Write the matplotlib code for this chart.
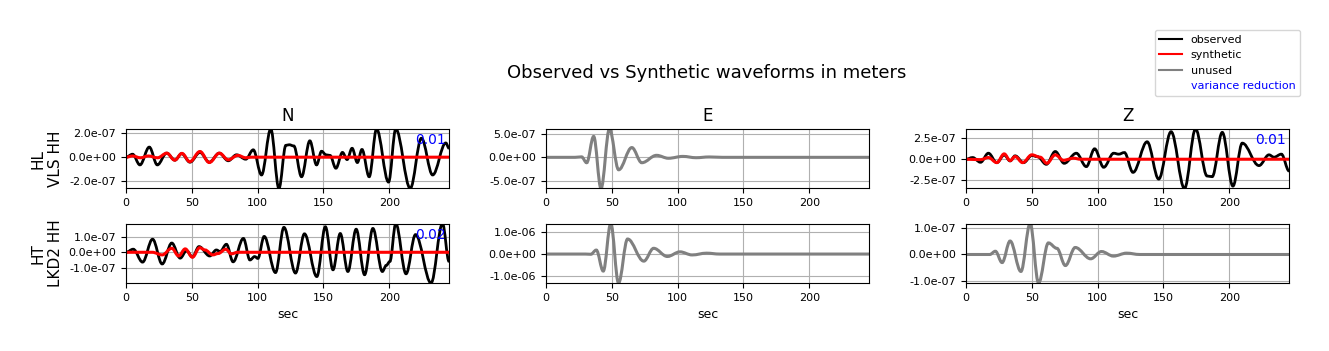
import numpy as np
import matplotlib
matplotlib.use("Agg")
import matplotlib.pyplot as plt
from matplotlib.path import Path
from matplotlib.patches import PathPatch
from matplotlib.lines import Line2D
from matplotlib.ticker import FormatStrFormatter

# amplitudes below are in units of 1e-7 m, times in sec
UNIT = 1e-7

COMPONENTS = ["N", "E", "Z"]
STATIONS = ["HL\nVLS HH", "HT\nLKD2 HH"]

# --- HL / VLS HH ---
n_hl_obs_t = [0, 5.0, 10.6, 17.7, 23.8, 30.9, 37.2, 42.3, 48.6, 56.2, 63.3, 70.9, 77.7, 84.0, 91.0,
              96.7, 103.0, 110.0, 116.2, 121.5, 124.0, 127.5, 133.4, 139.7, 144.8, 148.6, 152.0,
              155.0, 159.5, 164.5, 168.0, 171.8, 175.8, 179.3, 184.8, 190.4, 199.5, 205.0, 216.0,
              224.5, 233.0, 243.0, 245.5]
n_hl_obs_v = [0, 0.25, -0.65, 0.85, -0.65, 0.34, -0.25, 0.30, -0.42, 0.40, -0.42, 0.34, -0.30, 0.20,
              -0.17, 0.62, -1.50, 2.38, -2.64, 1.00, 1.05, 0.95, -1.65, 1.38, -0.65, 0.50, 0.20,
              0.15, -0.93, 0.40, -0.20, 0.75, -0.45, 0.65, -1.65, 2.38, -2.10, 2.38, -2.63,
              1.60, -1.50, 1.20, 0.75]
n_hl_syn_t = [0, 5, 11, 17, 24, 31, 37, 42.5, 48.5, 56.2, 63.3, 71, 77.7, 85, 91, 95, 245.5]
n_hl_syn_v = [0, 0.1, -0.05, 0.1, -0.05, 0.34, -0.25, 0.32, -0.38, 0.48, -0.45, 0.34, -0.22, 0.15,
              -0.05, 0, 0]

e_hl_t = [0, 22, 27, 30.9, 36.2, 41.8, 48.2, 55.2, 65.2, 72.8, 84, 93, 104, 114, 124, 134, 245.5]
e_hl_v = [0, 0, 0.1, -1.16, 4.5, -6.7, 6.1, -2.68, 2.1, -1.16, 0.43, -0.2, 0.2, -0.08, 0.08, 0, 0]

z_hl_obs_t = [0, 5, 11, 17, 23.4, 29, 33.5, 37.3, 43.7, 50, 54.3, 61, 67.8, 74.6, 83.8, 91.4, 97.7,
              104.6, 112.2, 116, 120.3, 126.9, 137.6, 146.4, 155.8, 166, 174.4, 183.2, 187, 194.7,
              202.8, 209.9, 222.6, 230.2, 234, 239.6, 245.5]
z_hl_obs_v = [0, 0.2, -0.36, 0.71, -0.4, 0.5, -0.2, 0.4, -0.4, 0.44, 0.3, -0.6, 0.91, -0.48, 0.71,
              -0.87, 1.23, -0.95, 0.71, 0.6, 0.79, -1.55, 2.06, -2.34, 3.25, -3.45, 3.57, -1.98,
              -2.06, 3.17, -3.17, 1.9, -0.75, 0.52, 0.24, 0.6, -1.39]
z_hl_syn_t = [0, 11, 17, 23.4, 29, 33.5, 37.3, 43, 50, 56.3, 61.4, 67.8, 74, 81.7, 87, 245.5]
z_hl_syn_v = [0, -0.05, 0.2, -0.4, 0.63, -0.16, 0.32, -0.4, 0.52, 0.24, -0.48, 0.52, -0.12, 0.12, 0, 0]

# --- HT / LKD2 HH ---
n_ht_obs_t = [0, 5.5, 12.6, 20.2, 27.5, 34.8, 41.2, 46, 50.5, 55.5, 63.6, 68.7, 71.5, 76.3, 81.4,
              89.2, 94.2, 97.8, 100.2, 105.0, 113.6, 120.0, 128.8, 135.6, 145.0, 151.5, 157.3,
              162.8, 168.6, 174.9, 181.3, 187.6, 194.8, 197.8, 200.5, 205.0, 212.8, 220.0, 231.8,
              240.5, 245.5]
n_ht_obs_v = [0, 0.2, -0.64, 0.85, -0.76, 0.6, -0.38, 0.1, -0.3, 0.37, -0.24, 0.15, 0.05, 0.52,
              -0.62, 0.9, -0.5, -0.28, -0.4, 1.03, -1.32, 1.62, -1.35, 1.2, -1.58, 1.66, -1.14,
              1.22, -1.25, 1.5, -1.46, 1.55, -1.25, -0.85, -0.6, 1.87, -1.4, 1.15, -2.0,
              1.87, -0.6]
n_ht_syn_t = [0, 20, 27.5, 34.8, 40, 45, 50.5, 56, 60, 66, 70, 75.8, 80, 85, 245.5]
n_ht_syn_v = [0, 0, -0.17, 0.26, -0.24, 0.22, -0.32, 0.3, 0.15, -0.17, -0.08, 0.2, -0.1, 0, 0]

e_ht_t = [0, 30, 34, 38.2, 43.5, 49.2, 55.1, 62.0, 74.3, 81.8, 92.2, 101.8, 111, 122, 132, 245.5]
e_ht_v = [0, 0, -0.1, 1.8, -7.7, 13.8, -13.1, 6.8, -3.2, 2.6, -1.1, 1.0, -0.4, 0.4, 0, 0]

z_ht_t = [0, 18, 22.3, 27.4, 33.5, 41.7, 48.7, 55.1, 62.6, 69, 75.5, 83, 94.7, 102.9, 112, 122, 132, 245.5]
z_ht_v = [0, 0, 0.12, -0.3, 0.5, -0.63, 1.15, -1.06, 0.43, 0.23, -0.41, 0.26, -0.16, 0.11, -0.06, 0.05, 0, 0]

# variance reduction per used trace, y ticks per panel
VR = {(0, 0): "0.01", (0, 2): "0.01", (1, 0): "0.02"}
YTICKS = [[[-2e-7, 0, 2e-7], [-5e-7, 0, 5e-7], [-2.5e-7, 0, 2.5e-7]],
          [[-1e-7, 0, 1e-7], [-1e-6, 0, 1e-6], [-1e-7, 0, 1e-7]]]

LW = {"black": 2.0, "red": 2.2, "gray": 2.2}

PANELS = {
    (0, 0): [(n_hl_obs_t, n_hl_obs_v, "black"), (n_hl_syn_t, n_hl_syn_v, "red")],
    (0, 1): [(e_hl_t, e_hl_v, "gray")],
    (0, 2): [(z_hl_obs_t, z_hl_obs_v, "black"), (z_hl_syn_t, z_hl_syn_v, "red")],
    (1, 0): [(n_ht_obs_t, n_ht_obs_v, "black"), (n_ht_syn_t, n_ht_syn_v, "red")],
    (1, 1): [(e_ht_t, e_ht_v, "gray")],
    (1, 2): [(z_ht_t, z_ht_v, "gray")],
}


def smooth_trace(ax, t, v, color, lw=2.0):
    # draw a smooth waveform through the picked peaks/troughs (bezier segments)
    t = np.asarray(t, float)
    v = np.asarray(v, float) * UNIT
    verts = [(t[0], v[0])]
    codes = [Path.MOVETO]
    for i in range(len(t) - 1):
        h = (t[i + 1] - t[i]) * 0.364
        verts += [(t[i] + h, v[i]), (t[i + 1] - h, v[i + 1]), (t[i + 1], v[i + 1])]
        codes += [Path.CURVE4] * 3
    # zorder 2 so the grid stays underneath, like plotted lines
    ax.add_patch(PathPatch(Path(verts, codes), facecolor="none", edgecolor=color, lw=lw, zorder=2))


fig, axes = plt.subplots(2, 3, figsize=(13.29, 3.51), dpi=100)
fig.subplots_adjust(left=0.0948, right=0.970, top=0.6325, bottom=0.1937, wspace=0.30, hspace=0.59)

for (r, c), traces in PANELS.items():
    ax = axes[r, c]
    for t, v, col in traces:
        smooth_trace(ax, t, v, col, lw=LW[col])
    ax.margins(0)
    ax.autoscale_view()
    ax.set_yticks(YTICKS[r][c])
    ax.yaxis.set_major_formatter(FormatStrFormatter("%.1e"))
    ax.tick_params(labelsize=8)
    ax.grid(True)
    if r == 0:
        ax.set_title(COMPONENTS[c], fontsize=12)
    if r == 1:
        ax.set_xlabel("sec", fontsize=9)
    if c == 0:
        ax.set_ylabel(STATIONS[r], fontsize=11)
    if (r, c) in VR:
        ax.text(0.99, 0.93, VR[(r, c)], transform=ax.transAxes, ha="right", va="top",
                color="blue", fontsize=10)

fig.suptitle("Observed vs Synthetic waveforms in meters", fontsize=13, x=0.532, y=0.819)

handles = [Line2D([], [], color="black", lw=1.5), Line2D([], [], color="red", lw=1.5),
           Line2D([], [], color="gray", lw=1.5), Line2D([], [], color="none")]
leg = fig.legend(handles, ["observed", "synthetic", "unused", "variance reduction"],
                 loc="upper right", bbox_to_anchor=(0.978, 0.914), fontsize=8, borderaxespad=0)
leg.get_texts()[3].set_color("blue")

fig.savefig("out.png", dpi=100)
